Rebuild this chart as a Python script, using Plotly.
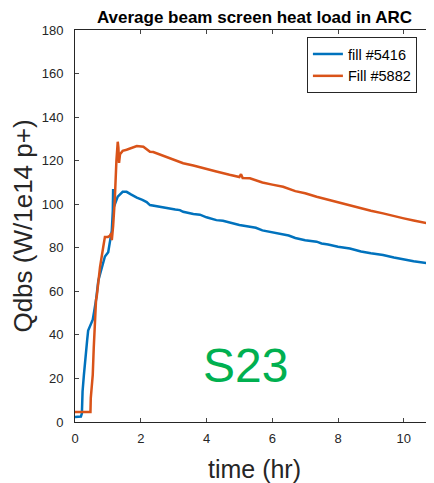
import plotly.graph_objects as go

# fill #5416 (blue)
t_5416 = [0, 0.18, 0.21, 0.23, 0.27, 0.33, 0.37, 0.40, 0.48, 0.54, 0.58, 0.64, 0.71, 0.81,
          0.91, 1.01, 1.06, 1.12, 1.15, 1.16, 1.19, 1.30, 1.45, 1.57, 1.70, 1.88, 2.05,
          2.18, 2.28, 2.48, 2.70, 2.88, 3.05, 3.19, 3.29, 3.60, 3.80, 4.00, 4.30, 4.50,
          4.70, 5.00, 5.32, 5.50, 5.70, 6.00, 6.33, 6.50, 6.70, 7.00, 7.35, 7.50, 7.70,
          8.00, 8.36, 8.70, 9.00, 9.37, 9.70, 10.00, 10.30, 10.69, 10.92]
q_5416 = [2.3, 2.5, 4, 14, 21.5, 33, 37.6, 42, 44.5, 47, 50.5, 56, 65, 71,
          76, 78, 82, 88, 97, 107, 99, 103.5, 105.7, 105.7, 104.5, 103, 102,
          101, 99.6, 99, 98.5, 98, 97.6, 97.3, 96.5, 95.5, 95.2, 94, 92.7, 92.4,
          91.5, 90.5, 89.7, 89.2, 88, 87, 85.9, 85.6, 84.5, 83.5, 82.8, 82.0, 81.5,
          80.5, 79.7, 78.3, 77.5, 76.7, 75.5, 74.5, 73.8, 73.0, 72.5]

# Fill #5882 (orange)
t_5882 = [0, 0.47, 0.48, 0.51, 0.54, 0.57, 0.60, 0.64, 0.66, 0.76, 0.86, 0.91, 1.00, 1.06,
          1.10, 1.12, 1.16, 1.21, 1.26, 1.30, 1.32, 1.34, 1.37, 1.45, 1.57, 1.75, 1.88,
          2.08, 2.28, 2.38, 2.60, 2.78, 3.00, 3.14, 3.29, 3.60, 4.00, 4.30, 4.70, 5.00,
          5.05, 5.10, 5.32, 5.70, 6.00, 6.33, 6.70, 7.00, 7.35, 7.70, 8.00, 8.36, 8.70,
          9.00, 9.37, 9.70, 10.00, 10.30, 10.69, 10.92]
q_5882 = [4.6, 4.6, 11, 16, 21.6, 34, 46.8, 56, 57.5, 71, 80.5, 85, 85, 85.5,
          86.7, 83.5, 90, 102, 120, 128.7, 126, 119, 123, 124.5, 125, 126, 126.7,
          126.4, 124.1, 124, 122.8, 121.8, 120.5, 119.5, 118.8, 117.8, 116, 115, 113.5, 112.5,
          113.8, 112, 111.9, 110, 109, 108, 106, 105, 103.4, 102, 101, 99.6, 98,
          97, 95.8, 94.5, 93.5, 92.5, 91.2, 90.6]

x_ticks = [0, 2, 4, 6, 8, 10]
y_ticks = [0, 20, 40, 60, 80, 100, 120, 140, 160, 180]

FONT = "Arial, Liberation Sans, sans-serif"
AX = "#262626"

fig = go.Figure()
fig.add_trace(go.Scatter(x=t_5416, y=q_5416, mode="lines", name="fill #5416",
                         line=dict(color="#0072BD", width=2.5)))
fig.add_trace(go.Scatter(x=t_5882, y=q_5882, mode="lines", name="Fill #5882",
                         line=dict(color="#D95319", width=2.5)))

fig.add_annotation(text="S23", x=5.2, y=26, xref="x", yref="y", showarrow=False,
                   font=dict(family=FONT, size=48, color="#00B050"))

# page body has an 8px default margin: size and margins compensate so the plot
# lands where it should without overflowing the window
fig.update_layout(
    width=426, height=475,
    margin=dict(l=67, r=0, t=22, b=61, autoexpand=False),
    paper_bgcolor="white", plot_bgcolor="white",
    font=dict(family=FONT, color=AX),
    title=dict(text="<b>Average beam screen heat load in ARC</b>", x=0.5, xref="paper",
               xanchor="center", y=1.0, yref="container", yanchor="top",
               pad=dict(t=3, b=0),
               font=dict(family=FONT, size=17, color="black"), automargin=False),
    showlegend=True,
    legend=dict(x=0.646, y=0.982, xanchor="left", yanchor="top",
                bgcolor="white", bordercolor=AX, borderwidth=1,
                font=dict(family=FONT, size=14.5, color="black"),
                tracegroupgap=0, itemwidth=30),
    xaxis=dict(range=[0, 10.92], tickvals=x_ticks, ticks="inside", ticklen=4,
               showline=True, linecolor=AX, linewidth=1, mirror="ticks",
               showgrid=False, zeroline=False, automargin=False, ticklabelstandoff=4,
               tickfont=dict(family=FONT, size=13, color=AX),
               title=dict(text="time (hr)", font=dict(family=FONT, size=25, color=AX),
                          standoff=15)),
    yaxis=dict(range=[0, 180], tickvals=y_ticks, ticks="inside", ticklen=4,
               showline=True, linecolor=AX, linewidth=1, mirror="ticks",
               showgrid=False, zeroline=False, automargin=False, ticklabelstandoff=8,
               tickfont=dict(family=FONT, size=13, color=AX),
               title=dict(text="Qdbs (W/1e14 p+)", font=dict(family=FONT, size=26, color=AX),
                          standoff=1)),
)

fig.write_html("out.html")
